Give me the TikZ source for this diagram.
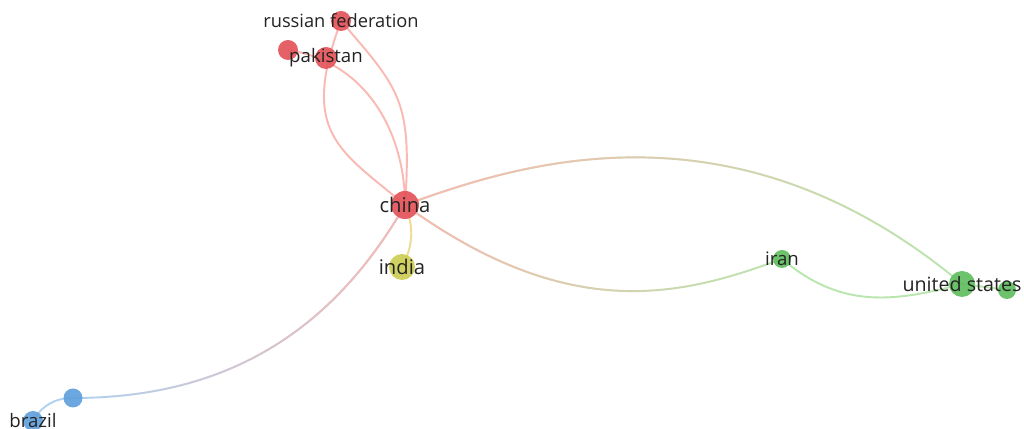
\documentclass[tikz,border=0pt]{standalone}
\usepackage{fontspec}
\setmainfont{Open Sans}
\usetikzlibrary{fadings,backgrounds}

\definecolor{nodered}{RGB}{228,84,90}
\definecolor{nodegreen}{RGB}{96,190,96}
\definecolor{nodeyellow}{RGB}{205,205,85}
\definecolor{nodeblue}{RGB}{95,160,220}
\definecolor{edgered}{RGB}{250,185,178}
\definecolor{edgegreen}{RGB}{185,230,175}
\definecolor{edgeyellow}{RGB}{240,218,150}
\definecolor{edgeblue}{RGB}{175,210,240}
\definecolor{labelgray}{RGB}{35,35,35}

\begin{document}
\begin{tikzpicture}[
  item/.style={circle, inner sep=0pt, opacity=0.92},
  lab/.style={text=labelgray, inner sep=0pt},
  link/.style={line width=1.1pt, line cap=round}
]
\useasboundingbox (0,0) rectangle (20.48,-8.58);

% Place the items (pixel positions divided by 50)
\node[item, fill=nodered, minimum size=0.56cm] (china) at (8.10,-4.10) {};
\node[item, fill=nodeyellow, minimum size=0.52cm] (india) at (8.04,-5.34) {};
\node[item, fill=nodered, minimum size=0.44cm] (pakistan) at (6.52,-1.16) {};
\node[item, fill=nodered, minimum size=0.40cm] (redA) at (5.76,-1.00) {};
\node[item, fill=nodered, minimum size=0.40cm] (russia) at (6.82,-0.42) {};
\node[item, fill=nodegreen, minimum size=0.36cm] (iran) at (15.64,-5.18) {};
\node[item, fill=nodegreen, minimum size=0.52cm] (usa) at (19.24,-5.68) {};
\node[item, fill=nodegreen, minimum size=0.36cm] (greenB) at (20.14,-5.80) {};
\node[item, fill=nodeblue, minimum size=0.38cm] (blueA) at (1.46,-7.96) {};
\node[item, fill=nodeblue, minimum size=0.40cm] (brazil) at (0.66,-8.42) {};

\begin{pgfonlayer}{background}
% Draw the links of the red cluster
\draw[link, edgered] (redA.center) .. controls +(-8.5:1.62) and +(90:1.4) .. (china.center);
\draw[link, edgered] (russia.center) .. controls +(249.6:2.41) and +(139.8:1.7) .. (china.center);
\draw[link, edgered] (russia.center) .. controls +(-49.3:1.79) and +(86:2.1) .. (china.center);

% Draw the links between clusters
\draw[link, edgeyellow] (china.center) to[bend left=25] (india.center);
\draw[link, edgegreen] (china.center) .. controls +(20:2.4) and +(140:5.95) .. (usa.center);
\draw[link, edgered, path fading=east] (china.center) .. controls +(20:2.4) and +(140:5.95) .. (usa.center);
\draw[link, edgegreen] (china.center) .. controls +(-36:4.14) and +(200:2.06) .. (iran.center);
\draw[link, edgered, path fading=east] (china.center) .. controls +(-36:4.14) and +(200:2.06) .. (iran.center);
\draw[link, edgeblue] (china.center) .. controls +(240:3) and +(0:3) .. (blueA.center);
\draw[link, edgered, path fading=west] (china.center) .. controls +(240:3) and +(0:3) .. (blueA.center);

% Draw the links of the green and blue clusters
\draw[link, edgegreen] (iran.center) .. controls +(-40:1.5) and +(195:1.5) .. (usa.center);
\draw[link, edgegreen] (usa.center) -- (greenB.center);
\draw[link, edgeblue] (blueA.center) to[out=180, in=60] (brazil.center);
\end{pgfonlayer}

% Write the labels
\foreach \n/\t/\s in {china/china/11.5, india/india/11.5, usa/united states/11.2,
    pakistan/pakistan/10.6, russia/russian federation/10.4, iran/iran/10.6, brazil/brazil/10.6}
  \node[lab, font=\fontsize{\s}{\s}\selectfont] (\n lab) at (\n) {\t};
\end{tikzpicture}
\end{document}
